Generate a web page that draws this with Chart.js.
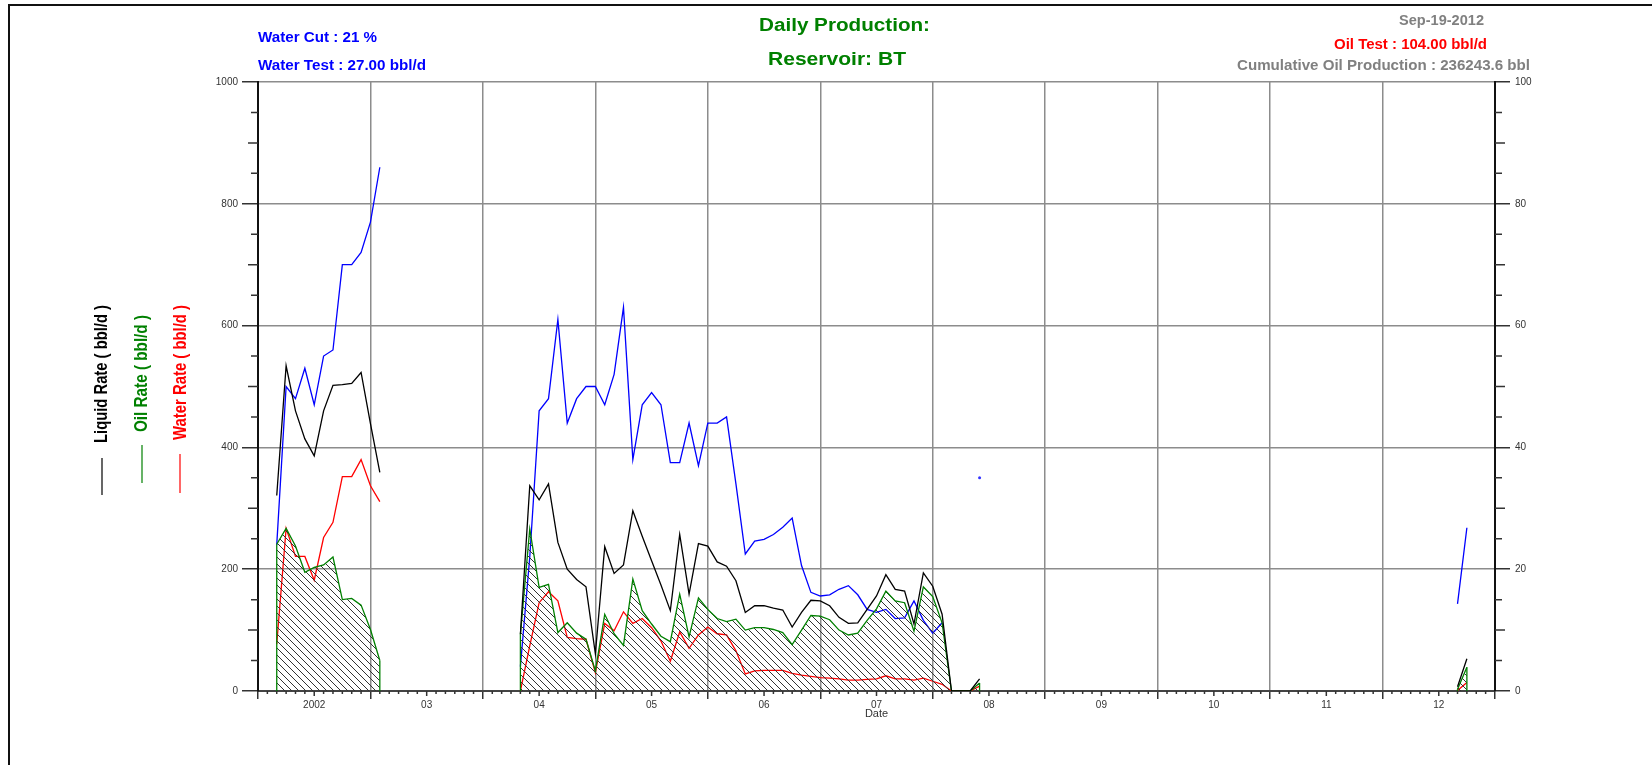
<!DOCTYPE html>
<html>
<head>
<meta charset="utf-8">
<title>Daily Production</title>
<script src="https://cdn.jsdelivr.net/npm/chart.js@4.4.1/dist/chart.umd.min.js"></script>
<style>
    body { margin: 0; background: #fff; }
    canvas { display: block; }
</style>
</head>
<body>
<canvas id="grafico-producao" width="1652" height="765"></canvas>
<script>
// monthly points, a null row between runs breaks the lines
var months = [
    '2002-03', '2002-04', '2002-05', '2002-06', '2002-07', '2002-08', '2002-09', '2002-10', '2002-11', '2002-12', '2003-01', '2003-02',
    '2003-03',
    '2004-05', '2004-06', '2004-07', '2004-08', '2004-09', '2004-10', '2004-11', '2004-12',
    '2005-01', '2005-02', '2005-03', '2005-04', '2005-05', '2005-06', '2005-07', '2005-08', '2005-09', '2005-10', '2005-11', '2005-12',
    '2006-01', '2006-02', '2006-03', '2006-04', '2006-05', '2006-06', '2006-07', '2006-08', '2006-09', '2006-10', '2006-11', '2006-12',
    '2007-01', '2007-02', '2007-03', '2007-04', '2007-05', '2007-06', '2007-07', '2007-08', '2007-09', '2007-10', '2007-11', '2007-12',
    '2008-01', '2008-02', '2008-03', '2008-04', '2008-05', '2008-06',
    '2008-07',
    '2012-09', '2012-10'
];

var liquidRate = [
    321, 534, 460, 414, 386, 460, 502, 503, 505, 523, 439, 359,
    null,
    93, 337, 314, 340, 244, 200, 183, 171,
    61, 237, 193, 207, 296, 254, 214, 174, 132, 257, 159, 242,
    238, 212, 205, 181, 129, 140, 140, 136, 133, 105, 129, 149,
    148, 140, 121, 111, 112, 134, 156, 191, 167, 164, 110, 194,
    172, 126, 0, 0, 0, 20,
    null,
    7, 53
];

var oilRate = [
    241, 267, 238, 195, 203, 207, 220, 150, 152, 141, 101, 50,
    null,
    93, 266, 170, 175, 96, 112, 95, 85,
    33, 126, 94, 75, 184, 132, 110, 90, 81, 159, 89, 153,
    134, 119, 114, 118, 100, 104, 104, 101, 96, 76, 100, 124,
    123, 117, 100, 92, 95, 116, 135, 164, 148, 145, 98, 171,
    155, 112, 0, 0, 0, 13,
    null,
    3, 39
];

var waterRate = [
    77, 267, 221, 221, 182, 252, 277, 352, 352, 380, 337, 311,
    null,
    0, 74, 145, 163, 148, 88, 86, 85,
    30, 111, 99, 130, 111, 119, 104, 82, 49, 97, 70, 92,
    105, 94, 92, 66, 28, 33, 34, 34, 34, 29, 26, 24,
    22, 21, 20, 18, 18, 19, 20, 25, 20, 20, 18, 21,
    16, 11, 0, 0, 0, 8,
    null,
    1, 14
];

// water cut in %, right axis
var waterCut = [
    24, 50, 48, 53, 47, 55, 56, 70, 70, 72, 77, 86,
    null,
    4, 22, 46, 48, 61, 44, 48, 50,
    50, 47, 52, 63, 38, 47, 49, 47, 37.5, 37.5, 44, 37,
    44, 44, 45, 34, 22.5, 24.6, 24.9, 25.7, 26.9, 28.4, 20.6, 16.2,
    15.6, 15.8, 16.7, 17.3, 15.8, 13.4, 12.9, 13.4, 11.9, 12, 14.8, 11.6,
    9.5, 11.2, null, null, null, 35,
    null,
    14.3, 26.8
];

var yearLabels = ['2002', '03', '04', '05', '06', '07', '08', '09', '10', '11', '12'];

var headerTexts = [
    // text, left, baseline, width, size, colour
    ['Water Cut : 21 %', 258, 42, 119, 14, '#0000ff'],
    ['Water Test : 27.00 bbl/d', 258, 70, 168, 14, '#0000ff'],
    ['Daily Production:', 759, 31, 171, 18, '#008000'],
    ['Reservoir: BT', 768, 64.5, 138, 18, '#008000'],
    ['Sep-19-2012', 1399, 25, 85, 14, '#808080'],
    ['Oil Test : 104.00 bbl/d', 1334, 49, 153, 14, '#ff0000'],
    ['Cumulative Oil Production : 236243.6 bbl', 1237, 70, 293, 14, '#808080']
];

var sideTexts = [
    // text, baseline x, start y, length, colour, legend line
    ['Liquid Rate ( bbl/d )', 107, 443, 138, '#000000', 102, 458, 495],
    ['Oil Rate ( bbl/d )', 147, 432, 117, '#008000', 142, 445, 483],
    ['Water Rate ( bbl/d )', 186, 440, 135, '#ff0000', 180, 454, 493]
];

function monthIndex(s) {
    var p = s.split('-');
    return (parseInt(p[0]) - 2002) * 12 + parseInt(p[1]) - 1;
}

function points(values) {
    return values.map(function (v, i) {
        return { x: monthIndex(months[i]), y: v };
    });
}

var canvas = document.getElementById('grafico-producao');
var ctx0 = canvas.getContext('2d');

// diagonal hatch for the oil area
var tile = document.createElement('canvas');
tile.width = 7;
tile.height = 7;
var tg = tile.getContext('2d');
tg.strokeStyle = '#333';
tg.lineWidth = 1;
tg.beginPath();
tg.moveTo(-1, -1); tg.lineTo(8, 8);
tg.moveTo(-1, 6); tg.lineTo(1, 8);
tg.moveTo(6, -1); tg.lineTo(8, 1);
tg.stroke();
var hatch = ctx0.createPattern(tile, 'repeat');

var fontFamily = "'Liberation Sans', Arial, sans-serif";

function fitText(ctx, text, x, y, width, font, color, angle) {
    ctx.save();
    ctx.font = font;
    ctx.fillStyle = color;
    ctx.textAlign = 'left';
    ctx.textBaseline = 'alphabetic';
    var w = ctx.measureText(text).width;
    ctx.translate(x, y);
    if (angle) ctx.rotate(angle);
    ctx.scale(width / w, 1);
    ctx.fillText(text, 0, 0);
    ctx.restore();
}

function isolated(c) {
    var d = c.dataset.data, i = c.dataIndex;
    var prev = d[i - 1], next = d[i + 1];
    return (!prev || prev.y == null) && (!next || next.y == null);
}

var decor = {
    id: 'decor',
    afterDatasetsDraw: function (chart) {
        // close the hatched area with green edges
        var ctx = chart.ctx;
        var meta = chart.getDatasetMeta(1);
        var base = chart.scales.y.getPixelForValue(0);
        var d = chart.data.datasets[1].data;
        ctx.save();
        ctx.strokeStyle = '#008000';
        ctx.lineWidth = 1.3;
        ctx.beginPath();
        for (var i = 0; i < d.length; i++) {
            if (d[i].y == null) continue;
            var first = i === 0 || d[i - 1].y == null;
            var last = i === d.length - 1 || d[i + 1].y == null;
            if (first || last) {
                var el = meta.data[i];
                ctx.moveTo(el.x, el.y);
                ctx.lineTo(el.x, base);
            }
        }
        ctx.stroke();
        ctx.restore();
    },
    afterDraw: function (chart) {
        var ctx = chart.ctx, a = chart.chartArea;
        var sx = chart.scales.x, sy = chart.scales.y, sy2 = chart.scales.y2;
        var v, p, len;
        ctx.save();

        ctx.strokeStyle = '#111';
        ctx.lineWidth = 2;
        ctx.beginPath();
        ctx.moveTo(9, 770);
        ctx.lineTo(9, 5);
        ctx.lineTo(1660, 5);
        ctx.stroke();

        // minor ticks
        ctx.strokeStyle = '#333';
        ctx.lineWidth = 1.5;
        ctx.beginPath();
        for (v = 50; v < 1000; v += 50) {
            if (v % 200 === 0) continue;
            p = sy.getPixelForValue(v);
            len = v % 100 === 0 ? 10 : 7;
            ctx.moveTo(a.left, p);
            ctx.lineTo(a.left - len, p);
        }
        for (v = 5; v < 100; v += 5) {
            if (v % 20 === 0) continue;
            p = sy2.getPixelForValue(v);
            len = v % 10 === 0 ? 10 : 7;
            ctx.moveTo(a.right, p);
            ctx.lineTo(a.right + len, p);
        }
        for (v = 1; v < 132; v++) {
            if (v % 12 === 0) continue;
            p = sx.getPixelForValue(v);
            len = v % 12 === 6 ? 5 : 3;
            ctx.moveTo(p, a.bottom);
            ctx.lineTo(p, a.bottom + len);
        }
        ctx.stroke();

        headerTexts.forEach(function (t) {
            fitText(ctx, t[0], t[1], t[2], t[3], 'bold ' + t[4] + 'px ' + fontFamily, t[5]);
        });

        sideTexts.forEach(function (t) {
            fitText(ctx, t[0], t[1], t[2], t[3], "bold 19px 'Liberation Sans Narrow', " + fontFamily, t[4], -Math.PI / 2);
            ctx.strokeStyle = t[4];
            ctx.lineWidth = 1.2;
            ctx.beginPath();
            ctx.moveTo(t[5], t[6]);
            ctx.lineTo(t[5], t[7]);
            ctx.stroke();
        });

        ctx.fillStyle = '#333';
        ctx.font = '11px ' + fontFamily;
        ctx.textAlign = 'center';
        ctx.textBaseline = 'alphabetic';
        ctx.fillText('Date', (a.left + a.right) / 2, 717);

        ctx.restore();
    }
};

var tickFont = { family: fontFamily, size: 10 };

var producao = new Chart(ctx0, {
    type: 'line',
    data: {
        datasets: [{
            label: 'Liquid Rate',
            data: points(liquidRate),
            borderColor: '#000000',
            borderWidth: 1.3,
            pointRadius: 0,
            fill: false,
            yAxisID: 'y'
        }, {
            label: 'Oil Rate',
            data: points(oilRate),
            borderColor: '#008000',
            backgroundColor: hatch,
            borderWidth: 1.3,
            pointRadius: 0,
            fill: 'origin',
            yAxisID: 'y'
        }, {
            label: 'Water Rate',
            data: points(waterRate),
            borderColor: '#ff0000',
            borderWidth: 1.3,
            pointRadius: 0,
            fill: false,
            yAxisID: 'y'
        }, {
            label: 'Water Cut',
            data: points(waterCut),
            borderColor: '#0000ff',
            backgroundColor: '#3333ff',
            borderWidth: 1.3,
            pointRadius: function (c) { return isolated(c) ? 1.5 : 0; },
            pointBorderWidth: 0,
            fill: false,
            yAxisID: 'y2'
        }]
    },
    options: {
        responsive: false,
        animation: false,
        layout: {
            padding: { top: 82, left: 0, right: 0, bottom: 0 }
        },
        plugins: {
            legend: { display: false },
            tooltip: { enabled: false }
        },
        scales: {
            x: {
                type: 'linear',
                min: 0,
                max: 132,
                afterBuildTicks: function (s) {
                    s.ticks = [];
                    for (var v = 0; v <= 132; v += 6) s.ticks.push({ value: v });
                },
                afterFit: function (s) { s.height = 74; },
                grid: {
                    color: function (c) {
                        var v = c.tick ? c.tick.value : 0;
                        return v % 12 === 0 && v > 0 && v < 132 ? '#8c8c8c' : 'rgba(0,0,0,0)';
                    },
                    lineWidth: 1.5,
                    tickLength: 8,
                    tickColor: function (c) {
                        return c.tick && c.tick.value % 12 === 0 ? '#333' : 'rgba(0,0,0,0)';
                    },
                    tickWidth: 1.5
                },
                border: { color: '#444', width: 2 },
                ticks: {
                    autoSkip: false,
                    maxRotation: 0,
                    padding: 0,
                    font: tickFont,
                    color: '#333',
                    callback: function (v) {
                        return v % 12 === 6 ? yearLabels[(v - 6) / 12] : '';
                    }
                }
            },
            y: {
                position: 'left',
                min: 0,
                max: 1000,
                afterFit: function (s) { s.width = 258; },
                ticks: {
                    stepSize: 200,
                    padding: 4,
                    font: tickFont,
                    color: '#333',
                    callback: function (v) { return String(v); }
                },
                grid: {
                    color: '#8c8c8c',
                    lineWidth: 1.5,
                    tickLength: 16,
                    tickColor: '#333',
                    tickWidth: 1.5
                },
                border: { color: '#111', width: 2 }
            },
            y2: {
                position: 'right',
                min: 0,
                max: 100,
                afterFit: function (s) { s.width = 157; },
                ticks: {
                    stepSize: 20,
                    padding: 5,
                    font: tickFont,
                    color: '#333',
                    callback: function (v) { return String(v); }
                },
                grid: {
                    drawOnChartArea: false,
                    color: '#333',
                    lineWidth: 1.5,
                    tickLength: 15
                },
                border: { color: '#111', width: 2 }
            }
        }
    },
    plugins: [decor]
});
</script>
</body>
</html>
